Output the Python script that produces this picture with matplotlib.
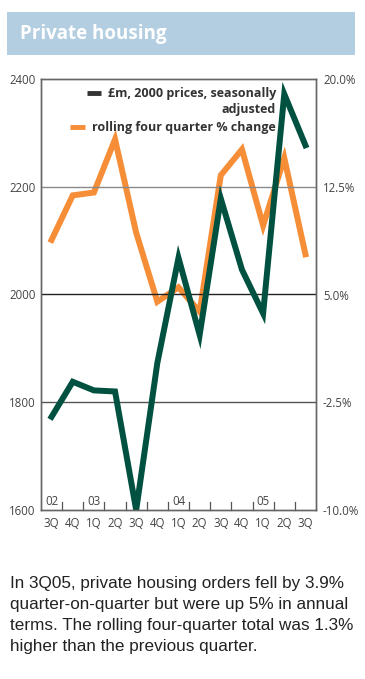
import matplotlib
matplotlib.use("Agg")
import matplotlib.pyplot as plt
from matplotlib.patches import Rectangle
from matplotlib.lines import Line2D

# datos
trimestres = ["3Q", "4Q", "1Q", "2Q", "3Q", "4Q", "1Q", "2Q", "3Q", "4Q", "1Q", "2Q", "3Q"]
anios = ["02", "03", "04", "05"]
pos_anios = [0, 2, 6, 10]
pedidos = [1773, 1838, 1822, 1820, 1600, 1873, 2068, 1925, 2178, 2046, 1965, 2372, 2277]
cambio_anual = [8.8, 11.9, 12.1, 15.8, 9.3, 4.5, 5.5, 3.8, 13.3, 15.1, 9.8, 14.5, 7.8]
ticks_izq = [1600, 1800, 2000, 2200, 2400]
ticks_der = [-10.0, -2.5, 5.0, 12.5, 20.0]

VERDE = "#00513f"
NARANJA = "#f68d37"
AZUL = "#b3cee1"
GRIS = "#444444"

W, H = 365, 679
fig = plt.figure(figsize=(W / 100, H / 100), dpi=100)


def fx(px):
    return px / W


def fy(py):
    return 1 - py / H


# cabecera
fig.patches.append(Rectangle((fx(7), fy(55)), fx(348), 43 / H, transform=fig.transFigure,
                             facecolor=AZUL, edgecolor="none"))
fig.text(fx(20), fy(34), "Private housing", color="white", fontsize=13.5,
         fontweight="bold", family="Open Sans", va="center", ha="left")

ax = fig.add_axes([fx(41), fy(510), fx(275), 431 / H])
ax2 = ax.twinx()

x = list(range(len(trimestres)))
ax2.plot(x, cambio_anual, color=NARANJA, lw=4.3, solid_joinstyle="miter", clip_on=False)
ax.plot(x, pedidos, color=VERDE, lw=4.3, solid_joinstyle="miter", clip_on=False)
ax.set_zorder(ax2.get_zorder() + 1)
ax.patch.set_visible(False)

ax.set_xlim(-0.5, len(trimestres) - 0.5)
ax.set_ylim(1600, 2400)
ax2.set_ylim(-10, 20)

# líneas horizontales
ax.axhline(2200, color="#8a8a8a", lw=1.0, zorder=0)
ax.axhline(2000, color="#222222", lw=1.0, zorder=0)
ax.axhline(1800, color="#555555", lw=1.0, zorder=0)

for a in (ax, ax2):
    for s in a.spines.values():
        s.set_color("#666666")
        s.set_linewidth(1.0)

ax.set_yticks(ticks_izq)
ax.set_yticklabels([str(t) for t in ticks_izq])
ax2.set_yticks(ticks_der)
ax2.set_yticklabels([f"{t:.1f}%" for t in ticks_der])
ax.tick_params(axis="y", length=0, pad=4, labelsize=8.3, labelcolor=GRIS)
ax2.tick_params(axis="y", length=0, pad=5, labelsize=8.3, labelcolor=GRIS)
for lab in ax.get_yticklabels() + ax2.get_yticklabels():
    lab.set_family("Open Sans")

ax.set_xticks(x)
ax.set_xticklabels(trimestres, family="Open Sans")
ax.tick_params(axis="x", length=0, pad=5, labelsize=8.3, labelcolor=GRIS)

# marcas interiores entre trimestres
for b in range(len(trimestres) - 1):
    ax.plot([b + 0.5, b + 0.5], [0, 0.018], transform=ax.get_xaxis_transform(),
            color="#555555", lw=0.9, clip_on=False)
for p, a in zip(pos_anios, anios):
    ax.text(p, 0.004, a, transform=ax.get_xaxis_transform(), ha="center", va="bottom",
            fontsize=8.3, color=GRIS, family="Open Sans")

# leyenda
estilo = dict(ha="right", va="center", fontsize=9, fontweight="bold",
              color="#333333", family="Open Sans")
fig.text(fx(276), fy(93), "£m, 2000 prices, seasonally", **estilo)
fig.text(fx(276), fy(110), "adjusted", **estilo)
fig.text(fx(276), fy(127), "rolling four quarter % change", **estilo)
fig.add_artist(Line2D([fx(87), fx(101)], [fy(93), fy(93)], transform=fig.transFigure,
                      color="#333333", lw=3.5, solid_capstyle="butt"))
fig.add_artist(Line2D([fx(70), fx(85)], [fy(127), fy(127)], transform=fig.transFigure,
                      color=NARANJA, lw=3.5, solid_capstyle="butt"))

# texto inferior
nota = ("In 3Q05, private housing orders fell by 3.9%\n"
        "quarter-on-quarter but were up 5% in annual\n"
        "terms. The rolling four-quarter total was 1.3%\n"
        "higher than the previous quarter.")
fig.text(fx(10), fy(576), nota, ha="left", va="top", fontsize=12.3,
         family="Liberation Sans", color="#222222", linespacing=1.5)

fig.savefig("out.png", dpi=100)
